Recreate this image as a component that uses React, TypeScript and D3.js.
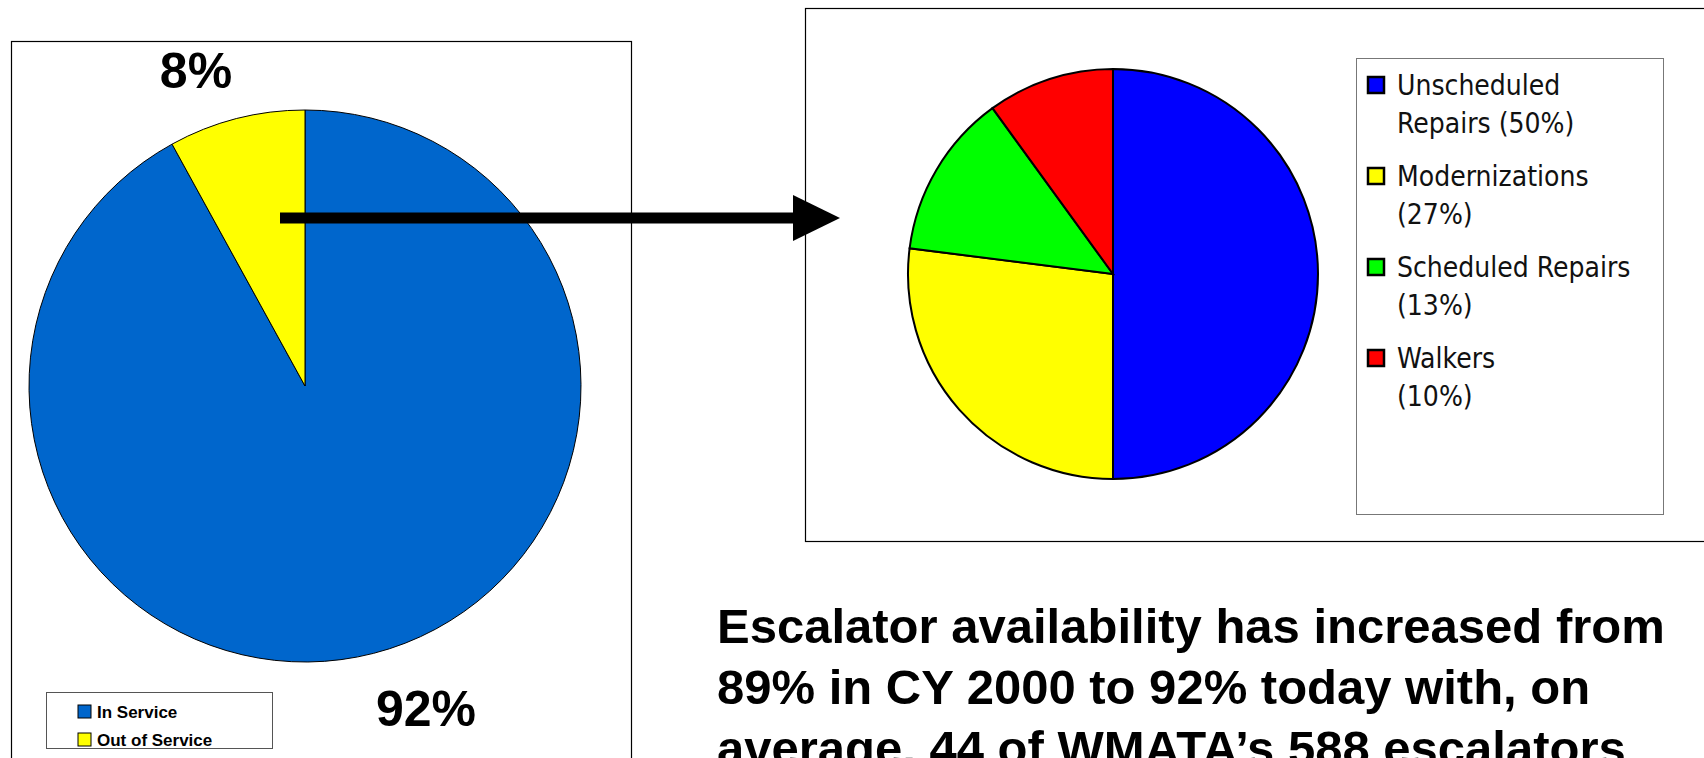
import * as d3 from 'd3';

// Left pie: service status
const statusLabels = ['In Service', 'Out of Service'];
const statusValues = [92, 8];
const statusColors = ['#0066CC', '#FFFF00'];

// Right pie: reasons out of service
const reasonValues = [50, 27, 13, 10];
const reasonLegend = [
  ['Unscheduled', 'Repairs (50%)'],
  ['Modernizations', '(27%)'],
  ['Scheduled Repairs', '(13%)'],
  ['Walkers', '(10%)'],
];
const reasonColors = ['#0000FF', '#FFFF00', '#00FF00', '#FF0000'];

const noteLines = [
  'Escalator availability has increased from',
  '89% in CY 2000 to 92% today with, on',
  'average, 44 of WMATA\u2019s 588 escalators',
];

const W = 1704;
const H = 758;

export default function App() {
  const pie = d3.pie<number>().sort(null).value(d => d);

  // left pie geometry
  const lc = { x: 305, y: 386, r: 276 };
  const leftArcs = pie(statusValues);
  const leftArc = d3.arc<d3.PieArcDatum<number>>().innerRadius(0).outerRadius(lc.r);

  // right pie geometry
  const rc = { x: 1113, y: 274, r: 205 };
  const rightArcs = pie(reasonValues);
  const rightArc = d3.arc<d3.PieArcDatum<number>>().innerRadius(0).outerRadius(rc.r);

  const bold = 'Liberation Sans, Arial, sans-serif';

  return (
    <div style={{ position: 'fixed', left: 0, top: 0, width: W, height: H, background: '#fff' }}>
      <svg width={W} height={H} style={{ display: 'block', overflow: 'hidden' }}>
        <rect width={W} height={H} fill="#fff" />

        {/* left panel */}
        <rect x={11.5} y={41.5} width={620} height={760} fill="none" stroke="#000" strokeWidth={1.2} />
        <g transform={`translate(${lc.x},${lc.y})`}>
          {leftArcs.map((a, i) => (
            <path key={i} d={leftArc(a) as string} fill={statusColors[i]} stroke="#000" strokeWidth={1} />
          ))}
        </g>
        <text x={196} y={88} textAnchor="middle" fontFamily={bold} fontWeight="bold" fontSize={50}>
          {statusValues[1]}%
        </text>
        <text x={426} y={726} textAnchor="middle" fontFamily={bold} fontWeight="bold" fontSize={50}>
          {statusValues[0]}%
        </text>

        <rect x={46.5} y={692.5} width={226} height={56} fill="#fff" stroke="#555" strokeWidth={1} />
        {statusLabels.map((l, i) => (
          <g key={l} transform={`translate(78,${705 + i * 28})`}>
            <rect x={0} y={0} width={13} height={13} fill={statusColors[i]} stroke="#000" strokeWidth={1} />
            <text x={19} y={13} fontFamily={bold} fontWeight="bold" fontSize={17}>{l}</text>
          </g>
        ))}

        {/* arrow */}
        <line x1={280} y1={218} x2={796} y2={218} stroke="#000" strokeWidth={11} />
        <path d="M793,195 L840,218 L793,241 Z" fill="#000" />

        {/* right panel */}
        <rect x={805.5} y={8.5} width={910} height={533} fill="none" stroke="#000" strokeWidth={1.2} />
        <g transform={`translate(${rc.x},${rc.y})`}>
          {rightArcs.map((a, i) => (
            <path key={i} d={rightArc(a) as string} fill={reasonColors[i]} stroke="#000" strokeWidth={2} />
          ))}
        </g>
        <rect x={1356.5} y={58.5} width={307} height={456} fill="#fff" stroke="#777" strokeWidth={1} />
        {reasonLegend.map((lines, i) => (
          <g key={i} transform={`translate(1368,${95 + i * 91})`}>
            <rect x={0} y={-18} width={16} height={16} fill={reasonColors[i]} stroke="#000" strokeWidth={2.5} />
            {lines.map((t, j) => (
              <text key={j} x={29} y={j * 38} fontFamily="DejaVu Sans Condensed, Liberation Sans Narrow, sans-serif"
                fontSize={28} fill="#111">{t}</text>
            ))}
          </g>
        ))}

        {/* note */}
        {noteLines.map((t, i) => (
          <text key={i} x={717} y={643 + i * 61} fontFamily={bold} fontWeight="bold" fontSize={49}>{t}</text>
        ))}
      </svg>
    </div>
  );
}
